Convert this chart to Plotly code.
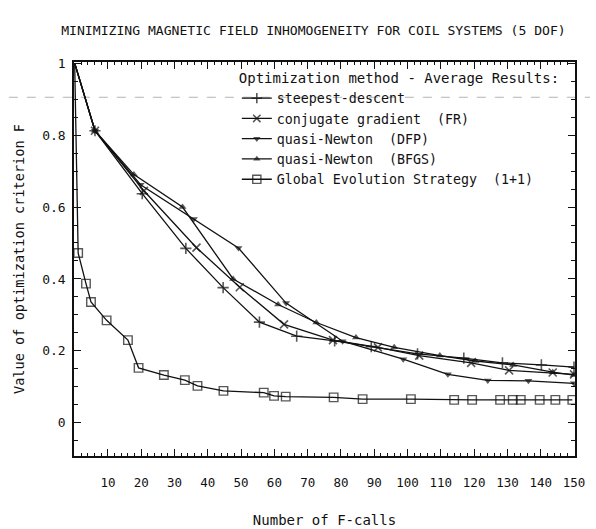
import plotly.graph_objects as go

# ---------------- data ----------------
steep_x = [0, 6.1, 20.3, 33.4, 44.6, 55.5, 66.7, 78.1, 89.1, 103.0, 116.9, 128.5, 140.2, 150]
steep_y = [1.0, 0.812, 0.637, 0.485, 0.376, 0.28, 0.241, 0.228, 0.212, 0.192, 0.18, 0.167, 0.161, 0.155]

cg_x = [0, 6.1, 20.8, 36.6, 49.6, 62.9, 77.6, 91.1, 103.5, 119.1, 130.5, 143.6, 150]
cg_y = [1.0, 0.812, 0.645, 0.487, 0.377, 0.274, 0.23, 0.21, 0.187, 0.167, 0.146, 0.14, 0.135]

dfp_x = [0, 6.1, 19.8, 35.8, 49.2, 63.5, 80.5, 98.7, 112.1, 124.1, 136.3, 150]
dfp_y = [1.0, 0.812, 0.662, 0.567, 0.486, 0.333, 0.227, 0.177, 0.135, 0.118, 0.117, 0.11]

bfgs_x = [0, 6.1, 17.8, 32.4, 47.6, 61.1, 72.6, 84.5, 96.0, 109.7, 120.4, 131.7, 143.6, 150]
bfgs_y = [1.0, 0.812, 0.69, 0.600, 0.40, 0.329, 0.279, 0.237, 0.21, 0.187, 0.172, 0.161, 0.141, 0.133]

es_x = [0, 1.05, 3.4, 4.9, 9.6, 16.0, 19.2, 26.8, 33.1, 36.9, 44.7, 56.8, 59.9, 63.4,
        77.8, 86.5, 101.0, 114.0, 119.4, 127.8, 131.6, 134.0, 139.7, 144.4, 149.5]
es_y = [1.0, 0.472, 0.387, 0.336, 0.285, 0.230, 0.153, 0.133, 0.119, 0.103, 0.089, 0.084, 0.075, 0.073,
        0.071, 0.066, 0.066, 0.064, 0.064, 0.064, 0.064, 0.064, 0.064, 0.064, 0.064]

series_names = [
    "steepest-descent",
    "conjugate gradient  (FR)",
    "quasi-Newton  (DFP)",
    "quasi-Newton  (BFGS)",
    "Global Evolution Strategy  (1+1)",
]

x_tick_vals = [10, 20, 30, 40, 50, 60, 70, 80, 90, 100, 110, 120, 130, 140, 150]
y_tick_vals = [0, 0.2, 0.4, 0.6, 0.8, 1.0]
y_tick_text = ["0", "0.2", "0.4", "0.6", "0.8", "1"]

title_text = "MINIMIZING MAGNETIC FIELD INHOMOGENEITY FOR COIL SYSTEMS (5 DOF)"
x_title = "Number of F-calls"
y_title = "Value of optimization criterion F"
legend_title = "Optimization method - Average Results:"

# ---------------- figure ----------------
FONT = "DejaVu Sans Mono"
INK = "#111111"

styles = [
    dict(symbol="cross-thin-open", size=8, line=dict(width=1.6, color=INK)),
    dict(symbol="x-thin-open", size=8, line=dict(width=1.6, color=INK)),
    dict(symbol="triangle-down", size=7, line=dict(width=0, color=INK)),
    dict(symbol="triangle-up", size=7, line=dict(width=0, color=INK)),
    dict(symbol="square-open", size=8.5, line=dict(width=1.4, color=INK)),
]
data = [(steep_x, steep_y), (cg_x, cg_y), (dfp_x, dfp_y), (bfgs_x, bfgs_y), (es_x, es_y)]

fig = go.Figure()
for (xs, ys), name, st in zip(data, series_names, styles):
    sizes = [0] + [st["size"]] * (len(xs) - 1)
    fig.add_trace(go.Scatter(
        x=xs, y=ys, mode="lines+markers", name=name,
        line=dict(color=INK, width=1.3),
        marker=dict(symbol=st["symbol"], size=sizes, color=INK, line=st["line"]),
    ))

axis_common = dict(
    showline=True, linecolor=INK, linewidth=1.5, mirror="allticks",
    ticks="inside", tickcolor=INK, showgrid=False, zeroline=False, automargin=False,
)

fig.update_layout(
    width=596, height=529,
    margin=dict(l=74, r=21, t=62, b=73),
    paper_bgcolor="white", plot_bgcolor="white",
    font=dict(family=FONT, size=13, color=INK),
    title=dict(text=title_text, x=0.526, xanchor="center", y=1 - 30 / 529, yanchor="middle",
               font=dict(family=FONT, size=13.1, color=INK)),
    xaxis=dict(range=[-0.2, 150.3], tickvals=x_tick_vals, ticklen=7, tickwidth=1.2,
               ticklabelstandoff=14, tickfont=dict(family=FONT, size=12.5, color=INK),
               minor=dict(dtick=2, tick0=0, ticklen=3, ticks="inside", tickcolor=INK, tickwidth=1),
               title=dict(text=x_title, standoff=26, font=dict(family=FONT, size=14, color=INK)),
               **axis_common),
    yaxis=dict(range=[-0.092, 1.003], tickvals=y_tick_vals, ticktext=y_tick_text, ticklen=7, tickwidth=1.2,
               ticklabelstandoff=4, tickfont=dict(family=FONT, size=13, color=INK),
               minor=dict(dtick=0.05, tick0=0, ticklen=4, ticks="inside", tickcolor=INK, tickwidth=1),
               title=dict(text=y_title, standoff=14, font=dict(family=FONT, size=13.6, color=INK)),
               **axis_common),
    legend=dict(
        x=0.325, y=0.993, xanchor="left", yanchor="top",
        bgcolor="rgba(0,0,0,0)", borderwidth=0,
        title=dict(text=legend_title, font=dict(family=FONT, size=14, color=INK)),
        font=dict(family=FONT, size=13.3, color=INK),
        itemwidth=30, tracegroupgap=0,
    ),
    showlegend=True,
)

# faint scanner streak across the upper part of the sheet
fig.add_shape(type="line", xref="paper", yref="y", x0=-0.13, x1=1.03, y0=0.905, y1=0.905,
              line=dict(color="#b4b4b4", width=1, dash="dash"), layer="below")

fig.write_html("out.html")
